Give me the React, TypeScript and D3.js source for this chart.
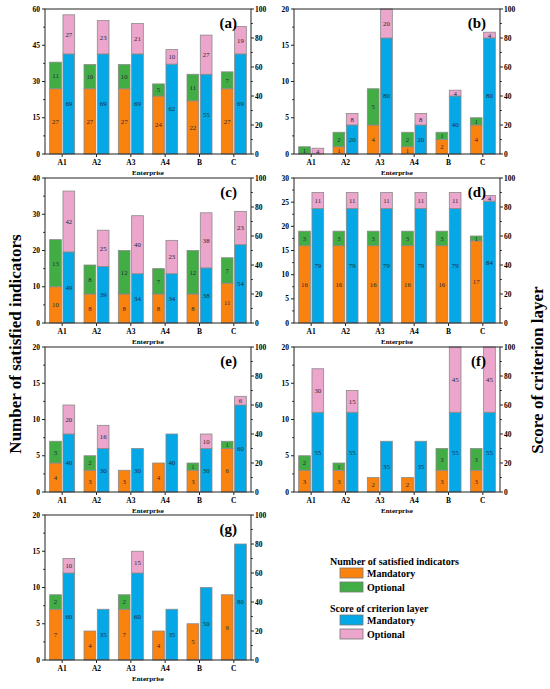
import * as d3 from 'd3';

const enterprises = ['A1', 'A2', 'A3', 'A4', 'B', 'C'];
const panelLabels = ['(a)', '(b)', '(c)', '(d)', '(e)', '(f)', '(g)'];
const countMax = [60, 20, 40, 30, 20, 20, 20];
const countStep = [15, 5, 10, 5, 5, 5, 5];
const scoreTicks = [0, 20, 40, 60, 80, 100];

// number of satisfied indicators
const mandatoryCount = [
  [27, 27, 27, 24, 22, 27],
  [0, 1, 4, 1, 2, 4],
  [10, 8, 8, 8, 8, 11],
  [16, 16, 16, 16, 16, 17],
  [4, 3, 3, 4, 3, 6],
  [3, 3, 2, 2, 3, 3],
  [7, 4, 7, 4, 5, 9],
];
const optionalCount = [
  [11, 10, 10, 5, 11, 7],
  [1, 2, 5, 2, 1, 1],
  [13, 8, 12, 7, 12, 7],
  [3, 3, 3, 3, 3, 1],
  [3, 2, 0, 0, 1, 1],
  [2, 1, 0, 0, 3, 3],
  [2, 0, 2, 0, 0, 0],
];

// score of criterion layer
const mandatoryScore = [
  [69, 69, 69, 62, 55, 69],
  [0, 20, 80, 20, 40, 80],
  [49, 39, 34, 34, 38, 54],
  [79, 79, 79, 79, 79, 84],
  [40, 30, 30, 40, 30, 60],
  [55, 55, 35, 35, 55, 55],
  [60, 35, 60, 35, 50, 80],
];
const optionalScore = [
  [27, 23, 21, 10, 27, 19],
  [4, 8, 20, 8, 4, 4],
  [42, 25, 40, 23, 38, 23],
  [11, 11, 11, 11, 11, 4],
  [20, 16, 0, 0, 10, 6],
  [30, 15, 0, 0, 45, 45],
  [10, 0, 15, 0, 0, 0],
];

const COLORS = {
  countMand: '#FA820F',
  countOpt: '#43AD45',
  scoreMand: '#04A8E6',
  scoreOpt: '#ECA5CB',
};
const FONT = '"Liberation Serif", "Times New Roman", serif';

const colX = [45, 294];
const rowY = [9, 178, 347, 515];
const plotW = 206;
const plotH = 145;

function Panel({ idx }: { idx: number }) {
  const x0 = colX[idx % 2];
  const y0 = rowY[Math.floor(idx / 2)];
  const x = d3.scaleBand().domain(enterprises).range([0, plotW]);
  const sub = d3.scaleBand().domain(['count', 'score']).range([-12.5, 12.5]).paddingInner(0.12);
  const yL = d3.scaleLinear().domain([0, countMax[idx]]).range([plotH, 0]);
  const yR = d3.scaleLinear().domain([0, 100]).range([plotH, 0]);
  const leftTicks = d3.range(0, countMax[idx] + 0.001, countStep[idx]);
  const leftMinor = d3.range(countStep[idx] / 2, countMax[idx], countStep[idx]);
  const rightMinor = d3.range(10, 100, 20);

  const segs: { key: string; y: any; lo: number; hi: number; fill: string; v: number; bx: number }[] = [];
  enterprises.forEach((e, i) => {
    const cx = x(e)! + x.bandwidth() / 2;
    const m = mandatoryCount[idx][i];
    const o = optionalCount[idx][i];
    const sm = mandatoryScore[idx][i];
    const so = optionalScore[idx][i];
    const bxC = cx + sub('count')!;
    const bxS = cx + sub('score')!;
    segs.push({ key: e + 'cm', y: yL, lo: 0, hi: m, fill: COLORS.countMand, v: m, bx: bxC });
    segs.push({ key: e + 'co', y: yL, lo: m, hi: m + o, fill: COLORS.countOpt, v: o, bx: bxC });
    segs.push({ key: e + 'sm', y: yR, lo: 0, hi: sm, fill: COLORS.scoreMand, v: sm, bx: bxS });
    segs.push({ key: e + 'so', y: yR, lo: sm, hi: sm + so, fill: COLORS.scoreOpt, v: so, bx: bxS });
  });
  const bw = sub.bandwidth();

  return (
    <g transform={`translate(${x0},${y0})`}>
      {segs.filter(s => s.v > 0).map(s => (
        <g key={s.key}>
          <rect x={s.bx} y={s.y(s.hi)} width={bw} height={s.y(s.lo) - s.y(s.hi)}
            fill={s.fill} stroke="#8a8a8a" strokeWidth={0.8} />
          <text x={s.bx + bw / 2} y={(s.y(s.lo) + s.y(s.hi)) / 2 + 2.4} textAnchor="middle"
            fontSize={6.8} fill="#1e2a3a" fontFamily={FONT}>{s.v}</text>
        </g>
      ))}
      <rect x={0} y={0} width={plotW} height={plotH} fill="none" stroke="#222" strokeWidth={1} />
      {/* left axis */}
      {leftTicks.map(t => (
        <g key={'l' + t}>
          <line x1={-3} x2={0} y1={yL(t)} y2={yL(t)} stroke="#222" />
          <text x={-5} y={yL(t) + 2.5} textAnchor="end" fontSize={7.5} fontWeight="bold" fontFamily={FONT}>{t}</text>
        </g>
      ))}
      {leftMinor.map(t => (
        <line key={'lm' + t} x1={-1.8} x2={0} y1={yL(t)} y2={yL(t)} stroke="#222" />
      ))}
      {/* right axis */}
      {scoreTicks.map(t => (
        <g key={'r' + t}>
          <line x1={plotW} x2={plotW + 3} y1={yR(t)} y2={yR(t)} stroke="#222" />
          <text x={plotW + 4} y={yR(t) + 2.5} textAnchor="start" fontSize={7.5} fontWeight="bold" fontFamily={FONT}>{t}</text>
        </g>
      ))}
      {rightMinor.map(t => (
        <line key={'rm' + t} x1={plotW} x2={plotW + 1.8} y1={yR(t)} y2={yR(t)} stroke="#222" />
      ))}
      {/* bottom axis */}
      {enterprises.map(e => {
        const cx = x(e)! + x.bandwidth() / 2;
        return (
          <g key={'x' + e}>
            <line x1={cx} x2={cx} y1={plotH} y2={plotH + 3} stroke="#222" />
            <text x={cx} y={plotH + 11} textAnchor="middle" fontSize={7.5} fontWeight="bold" fontFamily={FONT}>{e}</text>
          </g>
        );
      })}
      <text x={plotW / 2} y={plotH + 21} textAnchor="middle" fontSize={7} fontWeight="bold" fontFamily={FONT}>Enterprise</text>
      <text x={plotW - 14} y={19} textAnchor="end" fontSize={15} fontWeight="bold" fontFamily={FONT}>{panelLabels[idx]}</text>
    </g>
  );
}

const legendGroups = [
  { title: 'Number of satisfied indicators', items: [['Mandatory', COLORS.countMand], ['Optional', COLORS.countOpt]] },
  { title: 'Score of criterion layer', items: [['Mandatory', COLORS.scoreMand], ['Optional', COLORS.scoreOpt]] },
];

export default function App() {
  return (
    <svg width={550} height={689} style={{ position: 'absolute', left: 0, top: 0, background: 'white' }}>
      {panelLabels.map((_, i) => <Panel key={i} idx={i} />)}
      <text transform="translate(21,344) rotate(-90)" textAnchor="middle" fontSize={17} fontWeight="bold" fontFamily={FONT}>
        Number of satisfied indicators
      </text>
      <text transform="translate(543,370) rotate(-90)" textAnchor="middle" fontSize={17} fontWeight="bold" fontFamily={FONT}>
        Score of criterion layer
      </text>
      {legendGroups.map((g, gi) => (
        <g key={g.title} transform={`translate(330,${565 + gi * 47})`}>
          <text x={0} y={0} fontSize={10} fontWeight="bold" fontFamily={FONT}>{g.title}</text>
          {g.items.map(([label, color], ii) => (
            <g key={label} transform={`translate(10,${3 + ii * 14})`}>
              <rect x={0} y={0} width={23} height={10} fill={color} stroke="#777" strokeWidth={0.8} />
              <text x={27} y={9} fontSize={10} fontWeight="bold" fontFamily={FONT}>{label}</text>
            </g>
          ))}
        </g>
      ))}
    </svg>
  );
}
